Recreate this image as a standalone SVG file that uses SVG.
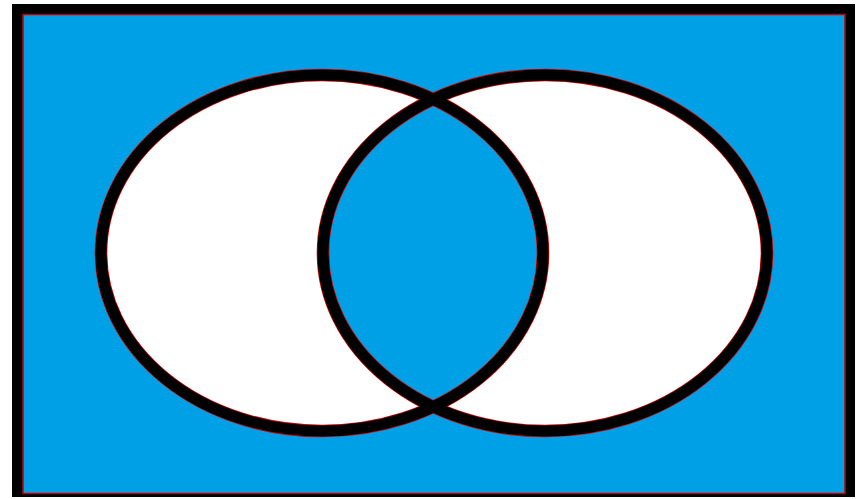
<svg xmlns="http://www.w3.org/2000/svg" width="858" height="499" viewBox="0 0 858 499">
<style>
.ring{fill:none;stroke:#000;stroke-width:11}
.halo{fill:none;stroke:#d00000;stroke-width:12.6}
</style>
<rect width="858" height="499" fill="#fff"/>
<g id="universe">
<rect x="12" y="4" width="843" height="493" fill="#000"/>
<rect x="23" y="14.5" width="822" height="479" fill="#00a0e6" stroke="#c00000" stroke-width="1.5"/>
</g>
<g id="sets">
<path id="difference" fill="#fff" fill-rule="evenodd" d="M101,253 a221,178 0 1,0 442,0 a221,178 0 1,0 -442,0 Z M323,253 a222,178 0 1,0 444,0 a222,178 0 1,0 -444,0 Z"/>
<g id="setA">
<ellipse class="halo" cx="322" cy="253" rx="221" ry="178"/>
</g>
<g id="setB">
<ellipse class="halo" cx="545" cy="253" rx="222" ry="178"/>
</g>
<ellipse class="ring" cx="322" cy="253" rx="221" ry="178"/>
<ellipse class="ring" cx="545" cy="253" rx="222" ry="178"/>
</g>
</svg>
